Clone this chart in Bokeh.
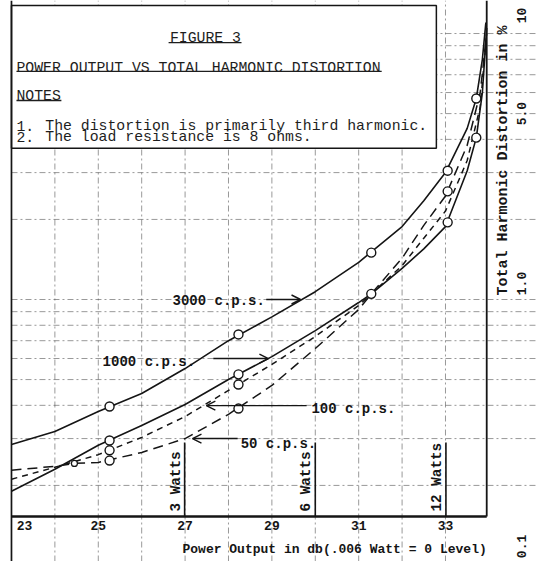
import numpy as np
from bokeh.plotting import figure
from bokeh.models import Arrow, OpenHead, Range1d
from bokeh.core.properties import value
from bokeh.embed import file_html
from bokeh.resources import INLINE

# ---------------- data ----------------
# power output in dB (.006 W = 0 level) and total harmonic distortion in %
db_3000 = [23, 24, 25, 26, 27, 28, 29, 30, 31, 32, 32.5, 33, 33.5, 33.71, 33.85, 33.93]
thd_3000 = [0.285, 0.319, 0.379, 0.443, 0.55, 0.70, 0.86, 1.07, 1.38, 1.88, 2.35, 3.0, 4.4, 5.7, 8.0, 11.0]

db_1000 = [23, 24, 25, 26, 27, 28, 29, 30, 31, 31.29, 32, 32.5, 33, 33.5, 33.71, 33.85, 33.95]
thd_1000 = [0.190, 0.230, 0.283, 0.336, 0.403, 0.500, 0.610, 0.764, 0.974, 1.05, 1.31, 1.55, 1.88, 3.05, 4.06, 6.0, 10.5]

db_100 = [23, 24, 25, 26, 27, 28, 29, 30, 31, 31.29, 32, 32.5, 33, 33.5, 33.8, 33.95]
thd_100 = [0.211, 0.234, 0.261, 0.303, 0.363, 0.455, 0.570, 0.726, 0.949, 1.05, 1.34, 1.70, 2.15, 3.33, 5.3, 10.0]

db_50 = [23, 24, 24.45, 25, 26, 27, 28, 29, 30, 31, 31.29, 32, 32.5, 33, 33.5, 33.8, 33.95]
thd_50 = [0.228, 0.236, 0.242, 0.244, 0.266, 0.300, 0.370, 0.475, 0.654, 0.917, 1.05, 1.43, 1.90, 2.45, 3.8, 6.0, 10.0]

# measured points (circles)
pts_3000_db = [25.26, 28.23, 31.29, 33.05, 33.71]
pts_3000 = [0.396, 0.739, 1.50, 3.05, 5.7]
pts_1000_db = [25.26, 28.23, 31.29, 33.05, 33.71]
pts_1000 = [0.295, 0.523, 1.05, 1.95, 4.06]
pts_100_db = [25.26, 28.23]
pts_100 = [0.271, 0.479]
pts_50_db = [25.26, 28.23, 33.05]
pts_50 = [0.248, 0.389, 2.55]
small_pts_db = [24.45]
small_pts = [0.242]

watts = [3, 6, 12]
watt_labels = ["3 Watts", "6 Watts", "12 Watts"]

x_ticks = [23, 25, 27, 29, 31, 33]
x_tick_labels = ["23", "25", "27", "29", "31", "33"]
y_ticks = [10, 5, 1, 0.1]
y_tick_labels = ["10", "5.0", "1.0", "0.1"]

grid_db = [24, 25, 26, 27, 28, 29, 30, 31, 32, 33]
grid_pct = [0.2, 0.3, 0.4, 0.5, 0.6, 0.7, 0.8, 0.9, 1, 2, 3, 4, 5, 6, 7, 8, 9, 10]

# ---------------- figure ----------------
X0, X1 = 22.747, 35.097
Y0, Y1 = 0.1035, 13.31
X_LEFT, X_RIGHT = 23.0, 33.95      # graph frame
Y_AXIS = 0.1528                    # level of the db axis line

p = figure(width=536, height=561, x_range=Range1d(X0, X1), y_range=Range1d(Y0, Y1),
           y_axis_type="log", x_axis_location=None, y_axis_location=None,
           min_border=0, toolbar_location=None, output_backend="svg",
           outline_line_color=None, background_fill_color="white",
           border_fill_color="white")
p.grid.visible = False

MONO = value("Liberation Mono")
INK = "#151515"

# graph-paper grid
p.segment(x0=grid_db, y0=[Y0] * len(grid_db), x1=grid_db, y1=[Y1] * len(grid_db),
          line_color="#555555", line_width=1, line_alpha=0.6, line_dash="6 3 2 3")
p.segment(x0=[X_LEFT] * len(grid_pct), y0=grid_pct, x1=[X1] * len(grid_pct), y1=grid_pct,
          line_color="#555555", line_width=1, line_alpha=0.6, line_dash="6 3 2 3")

# notes box (covers grid)
p.quad(left=[X_LEFT], right=[32.79], bottom=[3.70], top=[12.74],
       fill_color="white", line_color=INK, line_width=1.5)

# frame lines
p.segment(x0=[X_LEFT], y0=[Y0], x1=[X_LEFT], y1=[Y1], line_color=INK, line_width=1.7)
p.segment(x0=[X_RIGHT], y0=[Y_AXIS], x1=[X_RIGHT], y1=[Y1], line_color=INK, line_width=1.8)
p.segment(x0=[X_LEFT], y0=[Y_AXIS], x1=[X_RIGHT], y1=[Y_AXIS], line_color=INK, line_width=2.4)

# watt marker lines
watts_db = [10 * np.log10(w / 0.006) for w in watts]
p.segment(x0=watts_db, y0=[Y_AXIS] * 3, x1=watts_db, y1=[0.29] * 3, line_color=INK, line_width=1.6)
p.text(x=watts_db, y=[0.1596] * 3, text=watt_labels, angle=np.pi / 2, x_offset=-1,
       text_align="left", text_baseline="bottom", text_font=MONO, text_font_style="bold",
       text_font_size="14.3px", text_color=INK)

# curves
p.line(db_3000, thd_3000, line_color=INK, line_width=1.6)
p.line(db_1000, thd_1000, line_color=INK, line_width=1.6)
p.line(db_100, thd_100, line_color=INK, line_width=1.5, line_dash="6 5")
p.line(db_50, thd_50, line_color=INK, line_width=1.5, line_dash="10 6")

for xs, ys in [(pts_3000_db, pts_3000), (pts_1000_db, pts_1000),
               (pts_100_db, pts_100), (pts_50_db, pts_50)]:
    p.scatter(xs, ys, marker="circle", size=9, fill_color="white",
              line_color=INK, line_width=1.4)
p.scatter(small_pts_db, small_pts, marker="circle", size=6, fill_color="white",
          line_color=INK, line_width=1.2)

# curve labels and arrows
lab_kw = dict(text_font=MONO, text_font_style="bold", text_font_size="14px",
              text_color=INK, text_baseline="alphabetic", text_align="left")
p.text(x=[26.71], y=[0.991], text=["3000 c.p.s."], **lab_kw)
p.text(x=[25.10], y=[0.580], text=["1000 c.p.s."], **lab_kw)
p.text(x=[29.91], y=[0.386], text=["100 c.p.s."], **lab_kw)
p.text(x=[28.28], y=[0.285], text=["50 c.p.s."], **lab_kw)

for xs, ys, xe, ye in [(28.87, 1.0, 29.66, 1.0), (27.65, 0.600, 28.92, 0.600),
                       (29.80, 0.399, 27.49, 0.399), (28.21, 0.300, 27.17, 0.300)]:
    p.add_layout(Arrow(end=OpenHead(size=9, line_width=1.4, line_color=INK),
                       x_start=xs, y_start=ys, x_end=xe, y_end=ye,
                       line_color=INK, line_width=1.4))

# notes text
note_kw = dict(text_font=MONO, text_font_size="14.8px", text_color="#1e1e1e",
               text_baseline="alphabetic")
p.text(x=[27.47], y=[9.66], text=["FIGURE 3"], text_align="center", **note_kw)
p.text(x=[23.115], y=[7.45], text=["POWER OUTPUT VS TOTAL HARMONIC DISTORTION"],
       text_align="left", **note_kw)
p.text(x=[23.115], y=[5.80], text=["NOTES"], text_align="left", **note_kw)
p.text(x=[23.115, 23.115], y=[4.51, 4.10], text=["1.", "2."], text_align="left", **note_kw)
p.text(x=[23.78, 23.78], y=[4.51, 4.10],
       text=["The distortion is primarily third harmonic.",
             "The load resistance is 8 ohms."], text_align="left", **note_kw)
p.segment(x0=[26.62, 23.115, 23.115], y0=[9.25, 7.20, 5.60],
          x1=[28.30, 31.53, 24.15], y1=[9.25, 7.20, 5.60],
          line_color="#1e1e1e", line_width=1.3)

# axis tick labels and titles
p.text(x=x_ticks, y=[0.1414] * len(x_ticks), text=x_tick_labels,
       x_offset=[13, 0, 0, 0, 0, 0], text_align="center", text_baseline="middle",
       text_font=MONO, text_font_style="bold", text_font_size="13px", text_color=INK)
p.text(x=[26.94], y=[0.1149], text=["Power Output in db(.006 Watt = 0 Level)"],
       text_align="left", text_baseline="middle", text_font=MONO,
       text_font_style="bold", text_font_size="13px", text_color=INK)
p.text(x=[34.336], y=[1.035], text=["Total Harmonic Distortion in %"], angle=np.pi / 2,
       text_align="left", text_baseline="middle", text_font=MONO,
       text_font_style="bold", text_font_size="15px", text_color=INK)
p.text(x=[34.75] * len(y_ticks), y=y_ticks, text=y_tick_labels, angle=np.pi / 2,
       y_offset=[-18, 0, -16, -19], text_align="center", text_baseline="middle",
       text_font=MONO, text_font_style="bold", text_font_size="13px", text_color=INK)

open("out.html", "w").write(file_html(p, INLINE))
